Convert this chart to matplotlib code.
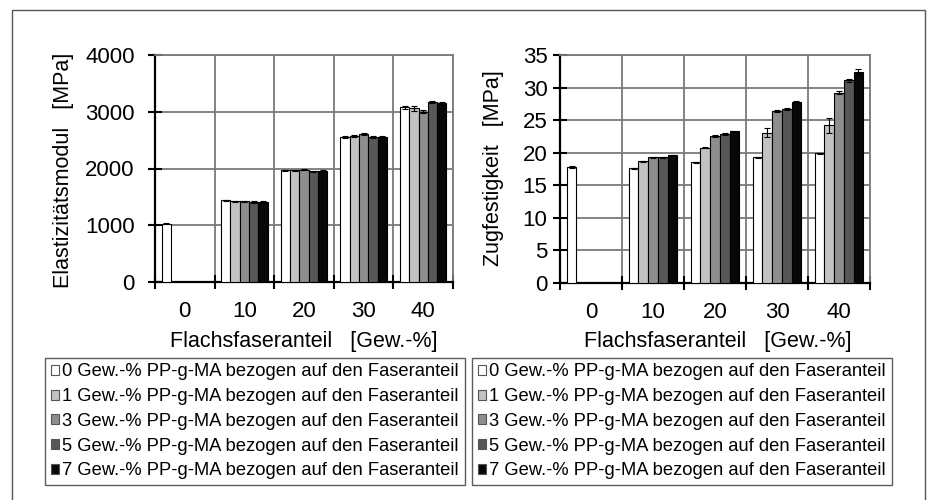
import matplotlib
matplotlib.use('Agg')
import matplotlib.pyplot as plt
import numpy as np
from matplotlib.patches import Patch, Rectangle

plt.rcParams['font.family'] = ['Liberation Sans', 'DejaVu Sans']

# ---------------- data ----------------
categories = ['0', '10', '20', '30', '40']
series_labels = [
    '0 Gew.-% PP-g-MA bezogen auf den Faseranteil',
    '1 Gew.-% PP-g-MA bezogen auf den Faseranteil',
    '3 Gew.-% PP-g-MA bezogen auf den Faseranteil',
    '5 Gew.-% PP-g-MA bezogen auf den Faseranteil',
    '7 Gew.-% PP-g-MA bezogen auf den Faseranteil',
]
nan = np.nan

# Elastizitaetsmodul [MPa]
emod_0 = [1030, 1440, 1970, 2560, 3080]
emod_1 = [nan, 1420, 1970, 2570, 3060]
emod_3 = [nan, 1420, 1975, 2610, 3000]
emod_5 = [nan, 1410, 1950, 2560, 3170]
emod_7 = [nan, 1410, 1960, 2560, 3150]
emod_err_0 = [15, 10, 10, 15, 25]
emod_err_1 = [nan, 10, 10, 15, 40]
emod_err_3 = [nan, 10, 10, 15, 30]
emod_err_5 = [nan, 10, 10, 20, 20]
emod_err_7 = [nan, 10, 10, 20, 30]

# Zugfestigkeit [MPa]
zf_0 = [17.8, 17.6, 18.5, 19.3, 19.9]
zf_1 = [nan, 18.7, 20.8, 23.1, 24.2]
zf_3 = [nan, 19.3, 22.5, 26.4, 29.2]
zf_5 = [nan, 19.3, 22.8, 26.7, 31.1]
zf_7 = [nan, 19.6, 23.3, 27.8, 32.4]
zf_err_0 = [0.1, 0.1, 0.1, 0.1, 0.1]
zf_err_1 = [nan, 0.1, 0.15, 0.7, 1.1]
zf_err_3 = [nan, 0.1, 0.15, 0.1, 0.2]
zf_err_5 = [nan, 0.1, 0.15, 0.15, 0.2]
zf_err_7 = [nan, 0.1, 0.1, 0.2, 0.4]

colors = ['#ffffff', '#c2c2c2', '#8e8e8e', '#575757', '#080808']

W, H = 930, 500
fig = plt.figure(figsize=(9.3, 5.0), dpi=100)

def px(x0, y0, x1, y1):
    return [x0 / W, 1 - y1 / H, (x1 - x0) / W, (y1 - y0) / H]

GRID = '#7a7a7a'

def draw(ax, series, errs, ymax, ystep, ypad):
    x = np.arange(len(categories))
    w = 0.156
    for i, (vals, e, c) in enumerate(zip(series, errs, colors)):
        ax.bar(x + (i - 2) * w, vals, w, yerr=e, color=c, edgecolor='black',
               linewidth=0.8, zorder=3,
               error_kw=dict(ecolor='black', elinewidth=0.8, capsize=2.4,
                             capthick=0.8, zorder=4))
    ax.set_xlim(-0.5, len(categories) - 0.5)
    ax.set_ylim(0, ymax)
    ax.set_yticks(np.arange(0, ymax + ystep / 2, ystep))
    ax.set_xticks(x)
    ax.set_xticklabels(categories)
    ax.set_xticks(np.arange(-0.5, len(categories), 1), minor=True)
    ax.tick_params(axis='x', which='major', length=0, pad=14, labelsize=16)
    ax.tick_params(axis='x', which='minor', direction='inout', length=10,
                   width=1.5, color='black')
    ax.tick_params(axis='y', which='major', direction='inout', length=10,
                   width=1.5, color='black', pad=ypad, labelsize=16)
    ax.grid(axis='x', which='minor', color=GRID, lw=1.3)
    ax.grid(axis='y', which='major', color=GRID, lw=1.3)
    ax.set_axisbelow(True)
    for s in ['left', 'bottom']:
        ax.spines[s].set_color('black')
        ax.spines[s].set_linewidth(1.6)
    for s in ['top', 'right']:
        ax.spines[s].set_color(GRID)
        ax.spines[s].set_linewidth(1.3)

ax1 = fig.add_axes(px(155, 55, 453, 282))
draw(ax1, [emod_0, emod_1, emod_3, emod_5, emod_7],
     [emod_err_0, emod_err_1, emod_err_3, emod_err_5, emod_err_7],
     4000, 1000, 9.5)

ax2 = fig.add_axes(px(560, 55, 870, 283))
draw(ax2, [zf_0, zf_1, zf_3, zf_5, zf_7],
     [zf_err_0, zf_err_1, zf_err_3, zf_err_5, zf_err_7],
     35, 5, 4)

fs_lab = 15.5
fig.text(304 / W, 1 - 341 / H, 'Flachsfaseranteil   [Gew.-%]', ha='center',
         va='center', fontsize=fs_lab)
fig.text(718 / W, 1 - 341 / H, 'Flachsfaseranteil   [Gew.-%]', ha='center',
         va='center', fontsize=fs_lab)
fig.text(63 / W, 1 - 170 / H, 'Elastizitätsmodul   [MPa]', ha='center',
         va='center', rotation=90, fontsize=fs_lab)
fig.text(493 / W, 1 - 168 / H, 'Zugfestigkeit   [MPa]', ha='center',
         va='center', rotation=90, fontsize=fs_lab)

handles = [Patch(facecolor=c, edgecolor='#555555', linewidth=0.8) for c in colors]
for x0 in (45, 472):
    leg = fig.legend(handles, series_labels, loc='upper left',
                     bbox_to_anchor=(x0 / W, 1 - 358 / H), borderaxespad=0,
                     fontsize=13.2, frameon=True, fancybox=False,
                     handlelength=0.45, handleheight=0.45, handletextpad=0.2,
                     labelspacing=0.42, borderpad=0.3)
    leg.get_frame().set_edgecolor('#333333')
    leg.get_frame().set_linewidth(1.0)

fig.patches.append(Rectangle((12 / W, -0.1), (925 - 12) / W, 1 - 10 / H + 0.1,
                             transform=fig.transFigure, fill=False,
                             edgecolor='#555555', lw=1.0))

fig.savefig('out.png', dpi=100)
